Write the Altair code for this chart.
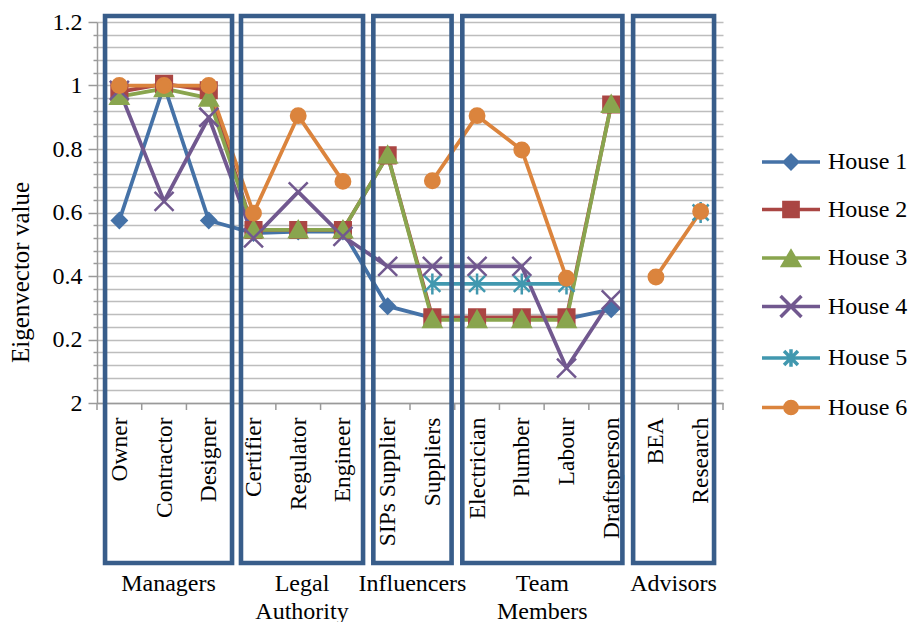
import altair as alt
import pandas as pd

# ---------------------------------------------------------------- data
CATEGORIES = [
    "Owner", "Contractor", "Designer",
    "Certifier", "Regulator", "Engineer",
    "SIPs Supplier", "Suppliers",
    "Electrician", "Plumber", "Labour", "Draftsperson",
    "BEA", "Research",
]
GROUPS = ["Managers", "Legal Authority", "Influencers", "Team Members", "Advisors"]

HOUSES = ["House 1", "House 2", "House 3", "House 4", "House 5", "House 6"]

N = None  # no score for that stakeholder
HOUSE_1 = [0.575, 1.0, 0.575, 0.535, 0.54, 0.54, 0.305, 0.268, 0.265, 0.265, 0.265, 0.295, N, N]
HOUSE_2 = [0.98, 1.005, 0.985, 0.545, 0.545, 0.545, 0.78, 0.27, 0.27, 0.27, 0.27, 0.94, N, N]
HOUSE_3 = [0.965, 0.99, 0.96, 0.545, 0.545, 0.545, 0.78, 0.262, 0.262, 0.262, 0.262, 0.94, N, N]
HOUSE_4 = [0.985, 0.635, 0.9, 0.52, 0.665, 0.525, 0.43, 0.43, 0.43, 0.43, 0.11, 0.325, N, N]
HOUSE_5 = [N, N, N, N, N, N, N, 0.375, 0.375, 0.375, 0.375, N, N, 0.60]
HOUSE_6 = [1.0, 1.0, 1.0, 0.598, 0.905, 0.698, N, 0.70, 0.905, 0.797, 0.393, N, 0.397, 0.603]
SERIES = [HOUSE_1, HOUSE_2, HOUSE_3, HOUSE_4, HOUSE_5, HOUSE_6]

# ---------------------------------------------------------------- styles
COLORS = ["#4572A7", "#AA4643", "#89A54E", "#71588F", "#4198AF", "#DB843D"]
BOX_COLOR = "#385D8A"
GRID_COLOR = "#bdbdbd"
AXIS_COLOR = "#9a9a9a"
FONT = "Liberation Serif"

# group frames, in category units (left / right edge of each frame)
BOX_LEFT = [0.18, 3.22, 6.18, 8.17, 11.99]
BOX_RIGHT = [3.02, 5.95, 7.93, 11.75, 13.80]

W, H = 626, 381

# chart markers, unit square scaled by sqrt(size)/2
MARKERS = [
    "M0,-0.72L0.72,0L0,0.72L-0.72,0Z",
    "M-0.78,-0.78L0.78,-0.78L0.78,0.78L-0.78,0.78Z",
    "M0,-0.85L0.88,0.72L-0.88,0.72Z",
    "M-0.95,-0.95L0.95,0.95M-0.95,0.95L0.95,-0.95",
    "M-0.8,-0.8L0.8,0.8M-0.8,0.8L0.8,-0.8M0,-1.05L0,1.05",
    "M-0.72,0A0.72,0.72,0,1,0,0.72,0A0.72,0.72,0,1,0,-0.72,0Z",
]
# legend symbols: a line segment with the marker in its middle
LEG_LINE = "M-1,0L1,0"
LEGEND_SYMBOLS = [
    LEG_LINE + "M0,-0.224L0.224,0L0,0.224L-0.224,0Z",
    LEG_LINE + "M-0.245,-0.245L0.245,-0.245L0.245,0.245L-0.245,0.245Z",
    LEG_LINE + "M0,-0.22L0.28,0.26L-0.28,0.26Z",
    LEG_LINE + "M-0.36,-0.36L0.36,0.36M-0.36,0.36L0.36,-0.36",
    LEG_LINE + "M-0.24,-0.24L0.24,0.24M-0.24,0.24L0.24,-0.24M0,-0.3L0,0.3",
    LEG_LINE + "M-0.21,0A0.21,0.21,0,1,0,0.21,0A0.21,0.21,0,1,0,-0.21,0Z",
]

# ---------------------------------------------------------------- tables
rows = []
for house, values in zip(HOUSES, SERIES):
    seg = 0
    for i, v in enumerate(values):
        if v is None:
            seg += 1
            continue
        rows.append({"house": house, "pos": i + 0.5, "value": v, "segment": f"{house}-{seg}"})
df = pd.DataFrame(rows)

box_df = pd.DataFrame({
    "group": GROUPS,
    "lo": BOX_LEFT,
    "hi": BOX_RIGHT,
    "mid": [(a + b) / 2 for a, b in zip(BOX_LEFT, BOX_RIGHT)],
})
tick_df = pd.DataFrame({"edge": list(range(len(CATEGORIES) + 1))})

# ---------------------------------------------------------------- scales & axes
x_scale = alt.Scale(domain=[0, len(CATEGORIES)], nice=False, zero=False)
y_scale = alt.Scale(domain=[0, 1.2], nice=False)

# category name for each band centre, as a chain of comparisons
x_label_expr = "''"
for i in reversed(range(len(CATEGORIES))):
    x_label_expr = f"datum.value < {i + 1} ? '{CATEGORIES[i]}' : ({x_label_expr})"

x_axis = alt.Axis(
    values=[i + 0.5 for i in range(len(CATEGORIES))],
    labelExpr=x_label_expr,
    labelAngle=-90,
    labelAlign="right",
    labelBaseline="middle",
    labelPadding=14,
    ticks=False,
    grid=False,
    domainColor=AXIS_COLOR,
    domainWidth=1.5,
    labelFont=FONT,
    labelFontSize=23.5,
    labelColor="#000000",
    labelOverlap=False,
    labelFlush=False,
    labelLimit=400,
    title=None,
)

y_values = [round(k * 0.04, 2) for k in range(31)]
major = "abs(datum.value * 5 - round(datum.value * 5)) < 0.001"
y_axis = alt.Axis(
    values=y_values,
    labelExpr=f"datum.value == 0 ? '2' : ({major} ? format(datum.value, '~g') : '')",
    grid=True,
    gridColor=GRID_COLOR,
    gridWidth=1.5,
    domainColor=AXIS_COLOR,
    domainWidth=1.5,
    tickColor=AXIS_COLOR,
    tickWidth=1.5,
    tickSize={"condition": {"test": major, "value": 9}, "value": 4},
    labelPadding=6,
    labelFont=FONT,
    labelFontSize=24,
    labelColor="#000000",
    labelOverlap=False,
    title="Eigenvector value",
    titleFont=FONT,
    titleFontSize=25,
    titleFontWeight="normal",
    titleColor="#000000",
    titleAngle=270,
    titleAlign="center",
    titleBaseline="middle",
    titleX=-77,
    titleY=250,
)


def X(field="pos"):
    return alt.X(f"{field}:Q", scale=x_scale, axis=x_axis)


def Y():
    return alt.Y("value:Q", scale=y_scale, axis=y_axis)


# ---------------------------------------------------------------- layers
line_layers = []
marker_layers = []
for house, color, shape in zip(HOUSES, COLORS, MARKERS):
    house_data = alt.Chart(df).transform_filter(alt.datum.house == house)
    line_layers.append(
        house_data.mark_line(color=color, strokeWidth=3.75, strokeJoin="round", strokeCap="round")
        .encode(x=X(), y=Y(), detail="segment:N", order="pos:Q")
    )
    marker_layers.append(
        house_data.mark_point(shape=shape, size=400, filled=True, fill=color, stroke=color,
                              strokeWidth=2.5, opacity=1)
        .encode(x=X(), y=Y())
    )

legend = alt.Legend(
    orient="none",
    legendX=663,
    legendY=109,
    title=None,
    labelFont=FONT,
    labelFontSize=24,
    labelColor="#000000",
    labelOffset=6,
    symbolSize=3364,
    symbolStrokeWidth=3.5,
    symbolOpacity=1,
    rowPadding=2.5,
    padding=0,
)
legend_layer = (
    alt.Chart(df)
    .transform_filter(alt.datum.value < 0)
    .mark_point(filled=True)
    .encode(
        x=X(),
        y=Y(),
        shape=alt.Shape("house:N", scale=alt.Scale(domain=HOUSES, range=LEGEND_SYMBOLS), legend=legend),
        fill=alt.Fill("house:N", scale=alt.Scale(domain=HOUSES, range=COLORS), legend=legend),
        stroke=alt.Stroke("house:N", scale=alt.Scale(domain=HOUSES, range=COLORS), legend=legend),
    )
)

cat_ticks = alt.Chart(tick_df).mark_rule(color=AXIS_COLOR, strokeWidth=1.5).encode(
    x=X("edge"),
    y=alt.value(H),
    y2=alt.value(H + 7),
)

frames = alt.Chart(box_df).mark_rect(
    fill=BOX_COLOR, fillOpacity=0, stroke=BOX_COLOR, strokeWidth=4.6, clip=False
).encode(
    x=X("lo"),
    x2="hi:Q",
    y=alt.value(-6),
    y2=alt.value(H + 160),
)

group_labels = alt.Chart(box_df).mark_text(
    font=FONT, fontSize=24, color="#000000", align="center", baseline="alphabetic",
    lineBreak=" ", lineHeight=28,
).encode(
    x=X("mid"),
    y=alt.value(H + 188),
    text="group:N",
)

chart = (
    alt.layer(cat_ticks, *line_layers, *marker_layers, legend_layer, frames, group_labels)
    .properties(
        width=W,
        height=H,
        autosize=alt.AutoSizeParams(type="none"),
        padding={"left": 97, "top": 22, "right": 911 - 97 - W, "bottom": 622 - 22 - H},
        background="white",
    )
    .configure_view(stroke=None)
)

chart.save("out.html", embed_options={"renderer": "svg", "actions": False})
